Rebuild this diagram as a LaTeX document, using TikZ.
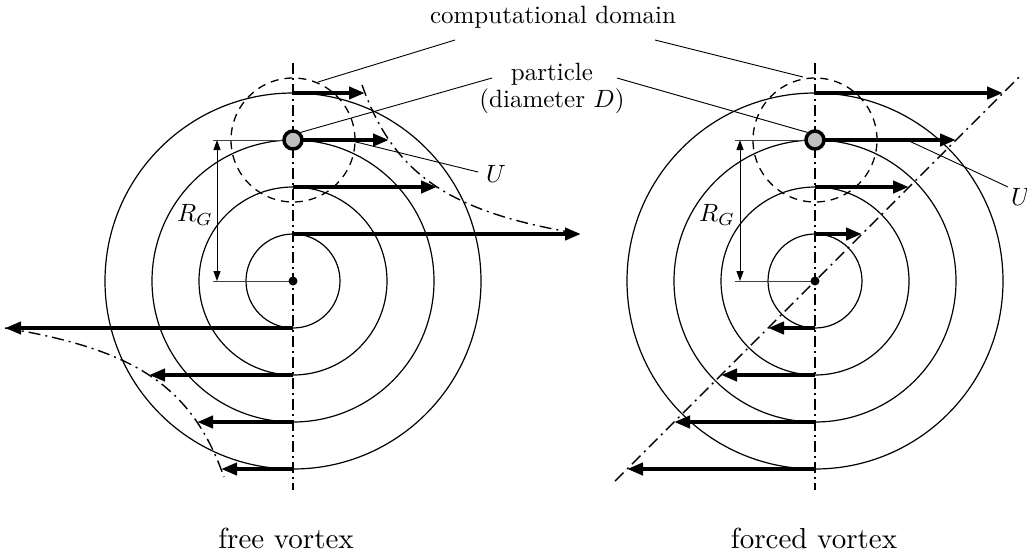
\documentclass[tikz,border=0pt]{standalone}
\usetikzlibrary{arrows.meta}
\begin{document}
\begin{tikzpicture}[x=1pt,y=-1pt,
  ring/.style={line width=1.2pt},
  vel/.style={line width=4.5pt,-{Triangle[length=16pt,width=12pt]}},
  axisline/.style={line width=1.2pt, dash pattern=on 11pt off 4pt on 2pt off 4pt},
  profile/.style={line width=1.4pt, dash pattern=on 12pt off 5pt on 2pt off 5pt},
  compdomain/.style={line width=1.3pt, dash pattern=on 8pt off 6pt},
  leader/.style={line width=0.9pt},
  dimarrow/.style={line width=1pt, {Triangle[length=10pt,width=7pt]}-{Triangle[length=10pt,width=7pt]}},
  extline/.style={line width=0.8pt, black!75},
  particle/.style={circle, draw, line width=3.5pt, fill=black!25, minimum size=18pt, inner sep=0pt},
  lab/.style={font=\normalsize, scale=2.5, inner sep=0pt},
  captionlab/.style={font=\normalsize, scale=2.9, inner sep=0pt}]
\useasboundingbox (0,0) rectangle (1027,558);

% ---------------- free vortex (left) ----------------
\coordinate (cL) at (293,281);
\foreach \r in {47,94,141,188} \draw[ring] (cL) circle[radius=\r pt];
\coordinate (aLt) at (293,63);
\coordinate (aLb) at (293,490);
\draw[axisline] (aLt) -- (aLb);
% velocity profile u ~ 1/r
\draw[profile] plot[domain=48:196, samples=80, smooth] ({293+13536/\x},{281-\x});
\draw[profile] plot[domain=47:196, samples=80, smooth] ({293-13536/\x},{281+\x});
% computational domain
\coordinate (pLc) at (293,140);
\draw[compdomain] (pLc) circle[radius=62pt];
% velocity arrows
\foreach \r [count=\i] in {47,94,141,188}{
  \pgfmathsetmacro{\L}{13536/\r}
  \coordinate (sLt\i) at (293,281-\r);
  \coordinate (eLt\i) at (293+\L,281-\r);
  \coordinate (sLb\i) at (293,281+\r);
  \coordinate (eLb\i) at (293-\L,281+\r);
  \draw[vel] (sLt\i) -- (eLt\i);
  \draw[vel] (sLb\i) -- (eLb\i);
}
% R_G dimension
\coordinate (dLt) at (217,140);
\coordinate (dLb) at (217,281);
\coordinate (xLt) at (213,140);
\coordinate (xLb) at (213,281);
\draw[extline] (xLt) -- (pLc);
\draw[extline] (xLb) -- (cL);
\draw[dimarrow] (dLt) -- (dLb);
\node[particle] (pL) at (pLc) {};
\fill (cL) circle[radius=4.5pt];

% ---------------- forced vortex (right) ----------------
\coordinate (cR) at (815,281);
\foreach \r in {47,94,141,188} \draw[ring] (cR) circle[radius=\r pt];
\coordinate (aRt) at (815,63);
\coordinate (aRb) at (815,490);
\draw[axisline] (aRt) -- (aRb);
\coordinate (lRb) at (615,481);
\coordinate (lRt) at (1019,77);
\draw[profile] (lRb) -- (lRt);
\coordinate (pRc) at (815,140);
\draw[compdomain] (pRc) circle[radius=62pt];
\foreach \r [count=\i] in {47,94,141,188}{
  \coordinate (sRt\i) at (815,281-\r);
  \coordinate (eRt\i) at (815+\r,281-\r);
  \coordinate (sRb\i) at (815,281+\r);
  \coordinate (eRb\i) at (815-\r,281+\r);
  \draw[vel] (sRt\i) -- (eRt\i);
  \draw[vel] (sRb\i) -- (eRb\i);
}
\coordinate (dRt) at (740,140);
\coordinate (dRb) at (740,281);
\coordinate (xRt) at (735,140);
\coordinate (xRb) at (735,281);
\draw[extline] (xRt) -- (pRc);
\draw[extline] (xRb) -- (cR);
\draw[dimarrow] (dRt) -- (dRb);
\node[particle] (pR) at (pRc) {};
\fill (cR) circle[radius=4.5pt];

% ---------------- labels ----------------
\node[lab] (cd) at (553,17) {computational domain};
\node[lab, align=center] (pt) at (552,88) {particle\\[-1.2pt](diameter $D$)};
\node[lab] (uL) at (496,174) {$U$};
\node[lab] (uR) at (1021,197) {$U$};
\node[lab] (rgL) at (195,215) {$R_G$};
\node[lab] (rgR) at (717,215) {$R_G$};
\node[captionlab] (fv) at (286,538) {free vortex};
\node[captionlab] (fo) at (814,538) {forced vortex};

% leaders
\coordinate (cdL1) at (455,40);  \coordinate (cdL2) at (318,82);
\coordinate (cdR1) at (655,40);  \coordinate (cdR2) at (803,77);
\coordinate (ptL1) at (492,78);  \coordinate (ptR1) at (617,78);
\coordinate (uL1) at (352,141);  \coordinate (uL2) at (478,172);
\coordinate (uR1) at (907,140);  \coordinate (uR2) at (1008,187);
\draw[leader] (cdL1) -- (cdL2);
\draw[leader] (cdR1) -- (cdR2);
\draw[leader] (ptL1) -- (pL.north east);
\draw[leader] (ptR1) -- (pR.north west);
\draw[leader] (uL1) -- (uL2);
\draw[leader] (uR1) -- (uR2);
\end{tikzpicture}
\end{document}
